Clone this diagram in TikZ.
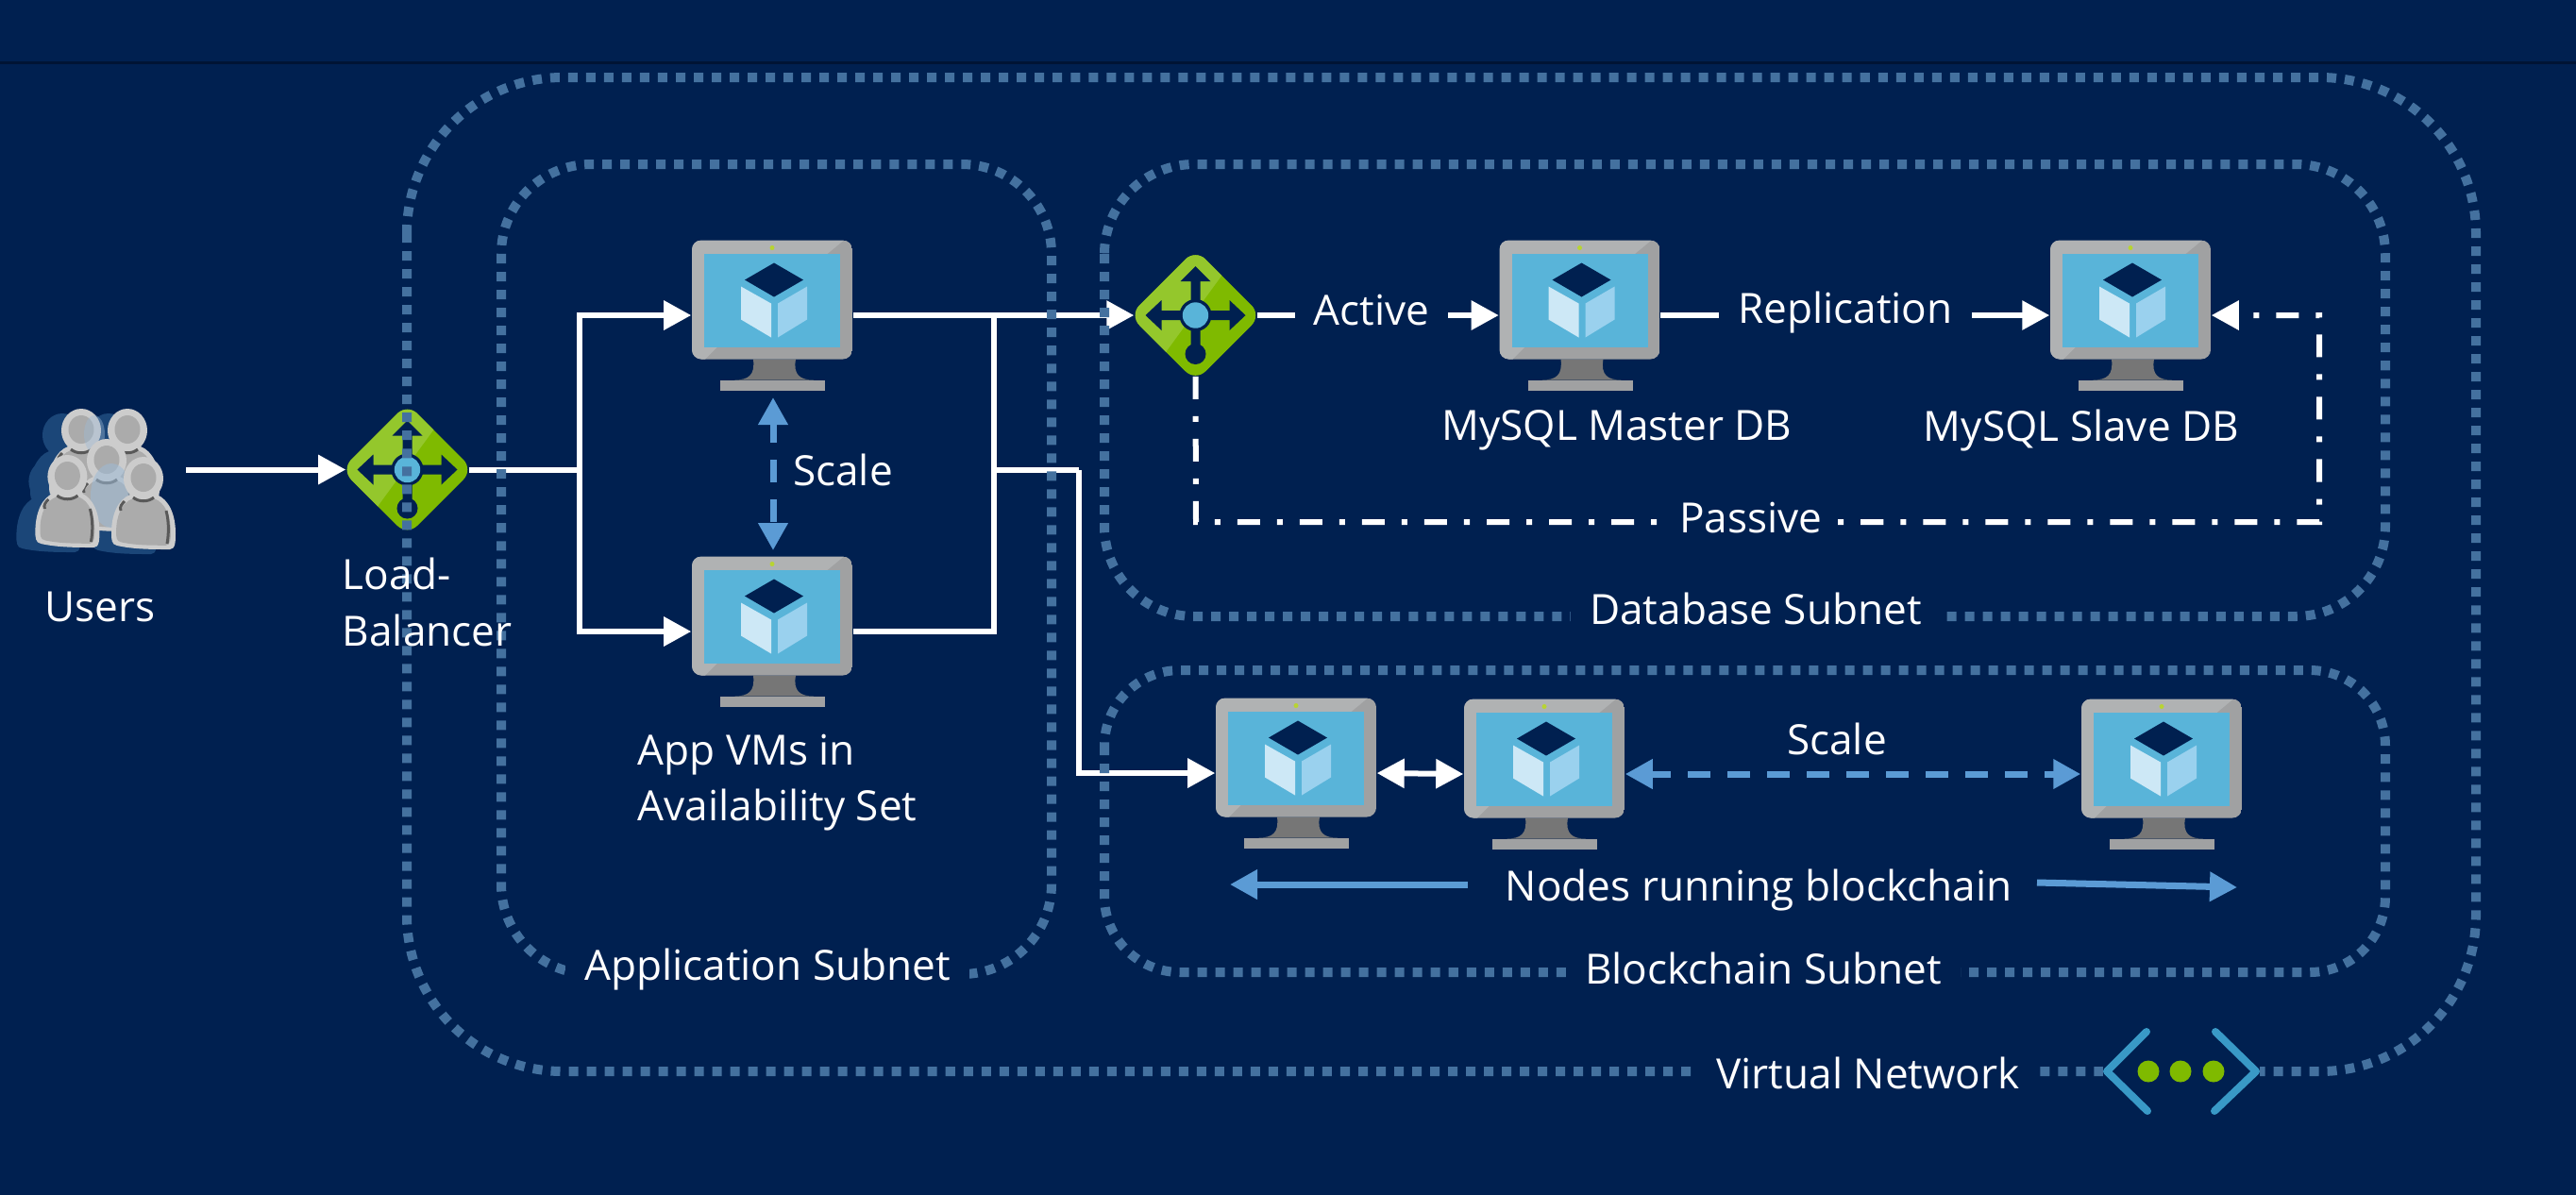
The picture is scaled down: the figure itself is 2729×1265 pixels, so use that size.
\documentclass[tikz,border=0pt]{standalone}
\usepackage{fontspec}
\setmainfont{Open Sans}
\usetikzlibrary{arrows.meta}
\definecolor{bg}{HTML}{002050}
\definecolor{dotc}{HTML}{44719F}
\definecolor{bluearr}{HTML}{5B9BD5}
\definecolor{scr}{HTML}{59B4D9}
\definecolor{bodyl}{HTML}{B0B2B3}
\definecolor{bodyd}{HTML}{A0A1A2}
\definecolor{neck}{HTML}{767676}
\definecolor{facel}{HTML}{CDE8F6}
\definecolor{facer}{HTML}{9AD1EE}
\definecolor{grnl}{HTML}{94C72C}
\definecolor{grnd}{HTML}{7FBA00}
\definecolor{led}{HTML}{B8D432}
\definecolor{vnetc}{HTML}{3999C6}
\definecolor{ringc}{HTML}{CCCCCC}
\definecolor{pgray}{HTML}{ABABAB}
\definecolor{shad}{HTML}{1B4678}
\definecolor{glass}{HTML}{9DBAD6}
\tikzset{
  x=0.01cm,y=-0.01cm,
  txt/.style={text=white,font=\fontsize{12.55}{17}\selectfont,inner sep=0pt},
  gaplabel/.style={txt,fill=bg,inner xsep=0.2cm,inner ysep=0.06cm},
  subnet/.style={draw=dotc,line width=0.1cm,dash pattern=on 0.1cm off 0.09cm},
  conn/.style={draw=white,line width=0.06cm,line join=miter},
  tipped/.style={-{Triangle[length=0.29cm,width=0.3cm]}},
  bothtip/.style={{Triangle[length=0.29cm,width=0.3cm]}-{Triangle[length=0.29cm,width=0.3cm]}},
  blueconn/.style={draw=bluearr,line width=0.07cm},
  blued/.style={blueconn,dash pattern=on 0.24cm off 0.18cm,dash phase=0.03cm},
  dashdot/.style={conn,dash pattern=on 0.24cm off 0.18cm on 0.06cm off 0.18cm},
  vmbox/.style={inner sep=0pt,minimum width=1.7cm,minimum height=1.59cm},
  lbbox/.style={inner sep=0pt,minimum width=1.29cm,minimum height=1.28cm},
}
\newcommand\vmart[3]{%
 \node[vmbox] (#1) at (#2,#3) {};
 \begin{scope}[shift={(#2,#3-16.5)}]
  \fill[neck] (-20,63) .. controls (-18,80) and (-25,85) .. (-40,85) -- (44,85) .. controls (30,85) and (22,80) .. (25,63) -- cycle;
  \fill[bodyd] (-55,85) rectangle (56,96);
  \begin{scope}
   \clip[rounded corners=0.1cm] (-85,-63) rectangle (85,63);
   \fill[bodyd] (-85,-63) rectangle (85,63);
   \fill[bodyl] (-85,-63) -- (76,-63) -- (59,-49) -- (-58,50) -- (-71,63) -- (-85,63) -- cycle;
  \end{scope}
  \fill[scr] (-72,-49) rectangle (72,50);
  \fill[led] (0,-55) circle (0.025cm);
  \fill[bg] (2,-39) -- (33,-21) -- (2,-3) -- (-29,-21) -- cycle;
  \fill[facel] (-33,-14) -- (-1,4) -- (-1,40) -- (-33,21) -- cycle;
  \fill[facer] (6,4) -- (37,-14) -- (37,21) -- (6,40) -- cycle;
 \end{scope}}
\newcommand\lbart[3]{%
 \node[lbbox] (#1) at (#2,#3) {};
 \begin{scope}[shift={(#2,#3)}]
  \fill[grnd,rounded corners=0.15cm] (0,-70) -- (70,0) -- (0,70) -- (-70,0) -- cycle;
  \begin{scope}
   \clip[rounded corners=0.15cm] (0,-70) -- (70,0) -- (0,70) -- (-70,0) -- cycle;
   \fill[grnl] (-80,-80) -- (57,-80) -- (27,-41) -- (-30,37) -- (-50,80) -- (-80,80) -- cycle;
  \end{scope}
  \fill[bg] (0,-52) -- (16,-36) -- (5,-36) -- (5,-5) -- (36,-5) -- (36,-16) -- (53,0) -- (36,16) -- (36,5) -- (5,5) -- (5,35) -- (-5,35) -- (-5,5) -- (-36,5) -- (-36,16) -- (-53,0) -- (-36,-16) -- (-36,-5) -- (-5,-5) -- (-5,-36) -- (-16,-36) -- cycle;
  \fill[bg] (0,0) circle (0.17cm);
  \fill[bg] (0,41) circle (0.11cm);
  \fill[scr] (0,0) circle (0.137cm);
 \end{scope}}
\newcommand\pbody[1]{\fill[#1] (-14,17) .. controls (-27,22) and (-34,38) .. (-34,58) .. controls (-34,64) and (-34,70) .. (-28,71) .. controls (-10,75) and (10,75) .. (28,75) .. controls (34,75) and (34,66) .. (34,58) .. controls (34,38) and (27,22) .. (14,17) -- cycle;}
\newcommand\pshadow[2]{\begin{scope}[shift={(#1-20,#2+5)}]
  \pbody{shad}\fill[shad] (0,0) ellipse [x radius=0.21cm,y radius=0.23cm];
 \end{scope}}
\newcommand\person[2]{\begin{scope}[shift={(#1,#2)}]
  \pbody{ringc}
  \begin{scope}[shift={(0,7)},scale=0.85]\pbody{pgray}\end{scope}
  \fill[ringc] (0,0) ellipse [x radius=0.21cm,y radius=0.23cm];
  \fill[pgray] (0,-1) ellipse [x radius=0.135cm,y radius=0.15cm];
  \draw[black!65,line width=0.03cm] (-11,20) .. controls (-5,25) and (5,25) .. (11,20);
  \draw[black!65,line width=0.03cm] (24,34) .. controls (27,45) and (27,58) .. (25,69);
  \draw[black!65,line width=0.03cm] (-24,34) .. controls (-26,30) and (-22,26) .. (-20,24);
 \end{scope}}
\begin{document}
\begin{tikzpicture}
\useasboundingbox (0,0) rectangle (2729,1265);
\fill[bg] (-20,-20) rectangle (2749,1285);
\draw[draw=black,draw opacity=0.35,line width=0.03cm] (0,66) -- (2729,66);

% users icon
\pshadow{86}{456}\pshadow{135}{456}\pshadow{113}{488}\pshadow{71.4}{505}\pshadow{152}{507}
\person{86}{456}
\person{135}{456}
\fill[glass,opacity=0.4] (100,460) ellipse [x radius=0.11cm,y radius=0.2cm];
\person{113}{488}
\fill[glass,opacity=0.55] (118,525) ellipse [x radius=0.22cm,y radius=0.34cm];
\person{71.4}{505}
\person{152}{507}
\node[inner sep=0pt,minimum width=1.76cm,minimum height=1.5cm] (users) at (108,497.5) {};

% devices
\vmart{vma}{818}{334}
\vmart{vmb}{818}{669}
\vmart{master}{1673.5}{334}
\vmart{slave}{2257}{334}
\vmart{bca}{1373}{819}
\vmart{bcb}{1636}{820}
\vmart{bcc}{2290}{820}
\lbart{lba}{431.5}{497.5}
\lbart{lbb}{1266.5}{334}

% junctions
\coordinate (ja) at (614,497.5);
\coordinate (jb) at (1053,334);
\coordinate (jc) at (1053,498);
\coordinate (jd) at (1143,498);
\coordinate (pa) at (1267,553);
\coordinate (pb) at (2457,553);
\coordinate (pc) at (2457,334);

% connectors
\draw[conn,tipped] (users.east) -- (lba.west);
\draw[conn] (lba.east) -- (ja);
\draw[conn,tipped] (ja) |- (vma.west);
\draw[conn,tipped] (ja) |- (vmb.west);
\draw[conn,tipped] (vma.east) -- (lbb.west);
\draw[conn] (vmb.east) -| (jb);
\draw[conn] (jc) -- (jd);
\draw[conn,tipped] (jd) |- (bca.west);
\draw[conn,tipped] (lbb.east) -- (master.west);
\draw[conn,tipped] (master.east) -- (slave.west);
\draw[dashdot,tipped] (lbb.south) -- (pa) -- (pb) -- (pc) -- (slave.east);
\draw[conn,bothtip] (bca.east) -- (bcb.west);
\coordinate (sca) at (819,421);
\coordinate (scb) at (819,583);
\draw[blued,bothtip] (sca) -- (scb);
\draw[blued,bothtip] (bcb.east) -- (bcc.west);

% dotted boundaries
\draw[subnet,rounded corners=1.65cm] (431,82) rectangle (2623,1135);
\draw[subnet,rounded corners=0.95cm] (531,174) rectangle (1114,1032);
\draw[subnet,rounded corners=0.95cm] (1170,174) rectangle (2527,653);
\draw[subnet,rounded corners=0.8cm] (1170,710) rectangle (2527,1030);

% labels on lines
\node[gaplabel] (active) at (1453,328) {Active};
\node[gaplabel] (repl) at (1955,331) {Replication};
\node[gaplabel,inner xsep=0.13cm] (passive) at (1855,548) {Passive};
\node[gaplabel] (dbs) at (1860,645) {Database Subnet};
\node[gaplabel] (bcs) at (1868,1026) {Blockchain Subnet};
\node[gaplabel] (aps) at (813,1027) {Application Subnet};
\node[gaplabel] (vns) at (1979,1137) {Virtual Network};

% free labels
\node[txt] (utxt) at (106,643) {Users};
\node[txt,align=left,anchor=north west] (lbtext) at (362,590) {Load-\\Balancer};
\node[txt,align=left,anchor=west] (avs) at (675,829) {App VMs in\\Availability Set};
\node[txt] (sc1) at (893,498) {Scale};
\node[txt] (mm) at (1713,456) {MySQL Master DB};
\node[txt] (ms) at (2205,456) {MySQL Slave DB};
\node[txt] (sc2) at (1946,783) {Scale};
\node[txt] (nrb) at (1863,943) {Nodes running blockchain};

% blue arrows
\coordinate (nla) at (1555,937);
\coordinate (nlb) at (1303,937);
\coordinate (nra) at (2158,935);
\coordinate (nrb2) at (2370,940);
\draw[blueconn,tipped] (nla) -- (nlb);
\draw[blueconn,tipped] (nra) -- (nrb2);

% vnet icon
\node[fill=bg,inner sep=0pt,minimum width=1.66cm,minimum height=1cm] (vnet) at (2311,1135) {};
\draw[vnetc,line width=0.08cm,line cap=round,line join=round] (2274,1093) -- (2232,1135) -- (2275,1177);
\draw[vnetc,line width=0.08cm,line cap=round,line join=round] (2347,1093) -- (2390,1135) -- (2346,1177);
\fill[grnd] (2276,1135) circle (0.115cm);
\fill[grnd] (2310,1135) circle (0.115cm);
\fill[grnd] (2345,1135) circle (0.115cm);
\end{tikzpicture}
\end{document}
